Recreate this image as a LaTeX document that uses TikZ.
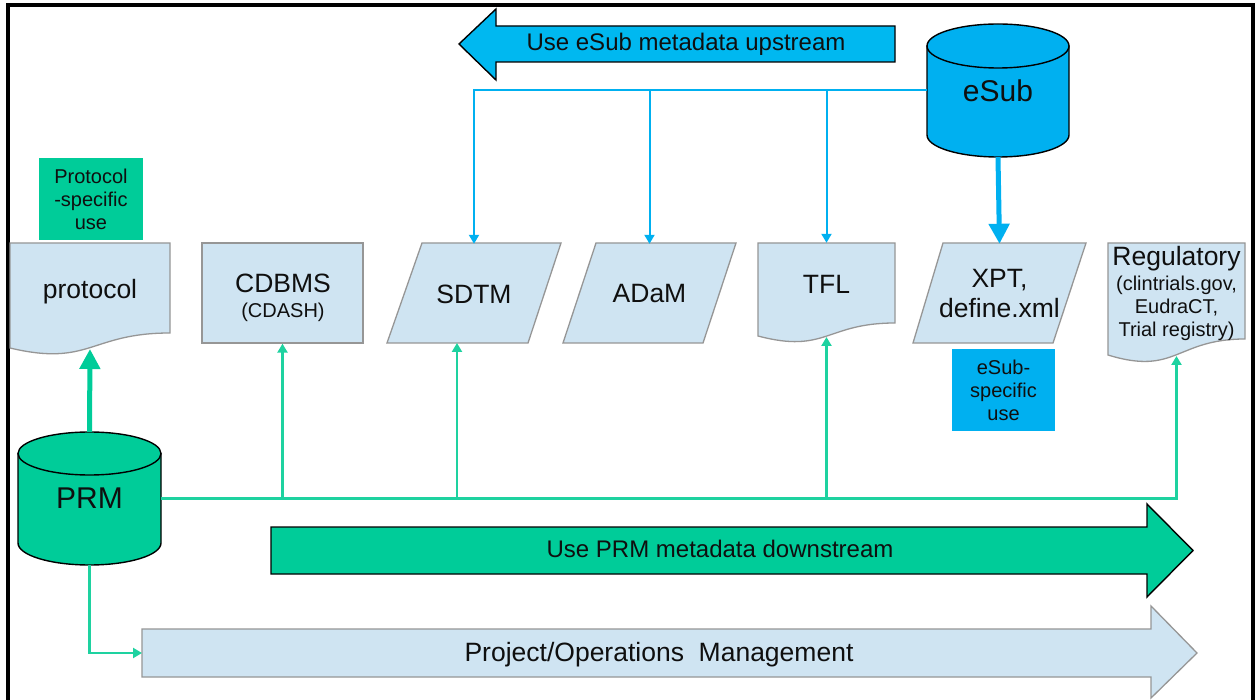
\documentclass[tikz,border=0pt]{standalone}
\usepackage{fontspec}
\setmainfont{Liberation Sans}
\usetikzlibrary{arrows.meta}
\definecolor{grn}{RGB}{0,204,153}
\definecolor{grnl}{RGB}{30,210,160}
\definecolor{cyn}{RGB}{0,184,240}
\definecolor{esubc}{RGB}{0,176,240}
\definecolor{lb}{RGB}{207,228,242}
\definecolor{gr}{RGB}{150,150,150}
\definecolor{txt}{RGB}{15,15,15}
\begin{document}
\begin{tikzpicture}[x=1pt,y=-1pt,
  box/.style={fill=lb,draw=gr,line width=1.3pt},
  lab/.style={font=\fontsize{26.5}{30}\selectfont,text=txt,inner sep=0pt},
  small/.style={font=\fontsize{20}{23}\selectfont,text=txt,align=center,inner sep=0pt},
  bigarrow/.style={draw=black,line width=1.4pt,line join=miter},
  bl/.style={draw=esubc,line width=2pt,-{Triangle[width=10pt,length=9pt]}},
  gl/.style={draw=grnl,line width=2.5pt,-{Triangle[width=10pt,length=9pt]}},
  fatb/.style={draw=esubc,line width=5pt,-{Triangle[width=20pt,length=20pt]}},
  fatg/.style={draw=grn,line width=5pt,-{Triangle[width=20pt,length=20pt]}}]
\useasboundingbox (0,0) rectangle (1259,700);
\fill[white] (0,0) rectangle (1259,700);
% frame
\draw[line width=4pt] (8,702) -- (8,5.5) -- (1253,5.5) -- (1253,702);

% upstream arrow
\draw[bigarrow,fill=cyn] (459,44) -- (496,9) -- (496,26) -- (895,26) -- (895,62) -- (496,62) -- (496,80) -- cycle;
\node[font=\fontsize{24}{26}\selectfont,text=txt] (up) at (686,44) {Use eSub metadata upstream};

% eSub cylinder
\draw[fill=esubc,line width=1.4pt] (927,46) -- (927,135) arc[start angle=180,end angle=0,x radius=71,y radius=22] -- (1069,46) -- cycle;
\draw[fill=esubc,line width=1.4pt] (998,46) ellipse[x radius=71,y radius=22];
\node[lab,font=\fontsize{30}{34}\selectfont,minimum width=142pt,minimum height=133pt] (esub) at (998,90.5) {eSub};

% PRM cylinder
\draw[fill=grn,line width=1.4pt] (18,453.5) -- (18,543) arc[start angle=180,end angle=0,x radius=71.5,y radius=22] -- (161,453.5) -- cycle;
\draw[fill=grn,line width=1.4pt] (89.5,453.5) ellipse[x radius=71.5,y radius=21.5];
\node[lab,font=\fontsize{30}{34}\selectfont,minimum width=143pt,minimum height=133pt] (prm) at (89.5,498.5) {PRM};

% row of shapes
\draw[box] (10,243) -- (170,243) -- (170,333) .. controls (90,333) and (90,367) .. (10,348) -- cycle;
\node[lab] (prot) at (90,292) {protocol};
\coordinate (protbot) at (90,349);

\node[box,minimum width=161pt,minimum height=100pt,inner sep=0pt] (cdbms) at (282.5,293) {};
\node[lab] (cdbmst) at (283,283) {CDBMS};
\node[small] (cdash) at (283,312) {(CDASH)};

\draw[box] (422,243) -- (561,243) -- (528,343) -- (387,343) -- cycle;
\node[lab,minimum width=174pt,minimum height=100pt] (sdtm) at (474,294) {SDTM};
\coordinate (sdtmin) at (457,343);

\draw[box] (596,243) -- (736,243) -- (703,343) -- (563,343) -- cycle;
\node[lab,minimum width=173pt,minimum height=100pt] (adam) at (649.5,294) {ADaM};

\draw[box] (758,243) -- (895,243) -- (895,323) .. controls (826,323) and (826,354) .. (758,336) -- cycle;
\node[lab,minimum width=137pt,minimum height=82pt] (tfl) at (826.5,284) {TFL};
\coordinate (tflbot) at (826.5,337);

\draw[box] (943,243) -- (1086,243) -- (1053,343) -- (913,343) -- cycle;
\node[lab,align=center,font=\fontsize{26.5}{30}\selectfont,minimum width=173pt,minimum height=100pt] (xpt) at (999.5,294) {XPT,\\define.xml};

\draw[box] (1108,243) -- (1245,243) -- (1245,339) .. controls (1176,339) and (1176,376) .. (1108,355) -- cycle;
\node[lab] (reg) at (1176.5,259) {Regulatory};
\node[small] (regs) at (1176.5,308) {(clintrials.gov,\\EudraCT,\\Trial registry)};
\coordinate (regbot) at (1176.5,356);

% specific-use boxes
\node[fill=grn,minimum width=104pt,minimum height=82pt,small] (pspec) at (91,199) {Protocol\\-specific\\use};
\node[fill=esubc,minimum width=103pt,minimum height=82pt,small] (espec) at (1003.5,390) {eSub-\\specific\\use};

% downstream arrow
\draw[bigarrow,fill=grn] (271,527) -- (1147,527) -- (1147,504) -- (1193,550.5) -- (1147,597) -- (1147,574) -- (271,574) -- cycle;
\node[font=\fontsize{24}{26}\selectfont,text=txt] (down) at (720,549) {Use PRM metadata downstream};

% project arrow
\draw[fill=lb,draw=gr,line width=1.3pt] (142,629) -- (1151,629) -- (1151,606) -- (1197,653) -- (1151,698) -- (1151,677) -- (142,677) -- cycle;
\node[font=\fontsize{26.5}{30}\selectfont,text=txt] (proj) at (659,655) {Project/Operations\ \ Management};
\coordinate (projin) at (142,653);

% blue connectors
\draw[bl] (esub.west) -| (sdtm.north);
\draw[bl] (esub.west -| adam.north) -- (adam.north);
\draw[bl] (esub.west -| tfl.north) -- (tfl.north);
\draw[fatb] (esub.south) -- (xpt.north);

% green connectors
\draw[gl] (prm.east) -| (regbot);
\draw[gl] (prm.east -| cdbms.south) -- (cdbms.south);
\draw[gl] (prm.east -| sdtmin) -- (sdtmin);
\draw[gl] (prm.east -| tflbot) -- (tflbot);
\draw[fatg] (prm.north) -- (protbot);
\draw[gl] (prm.south) |- (projin);
\end{tikzpicture}
\end{document}
